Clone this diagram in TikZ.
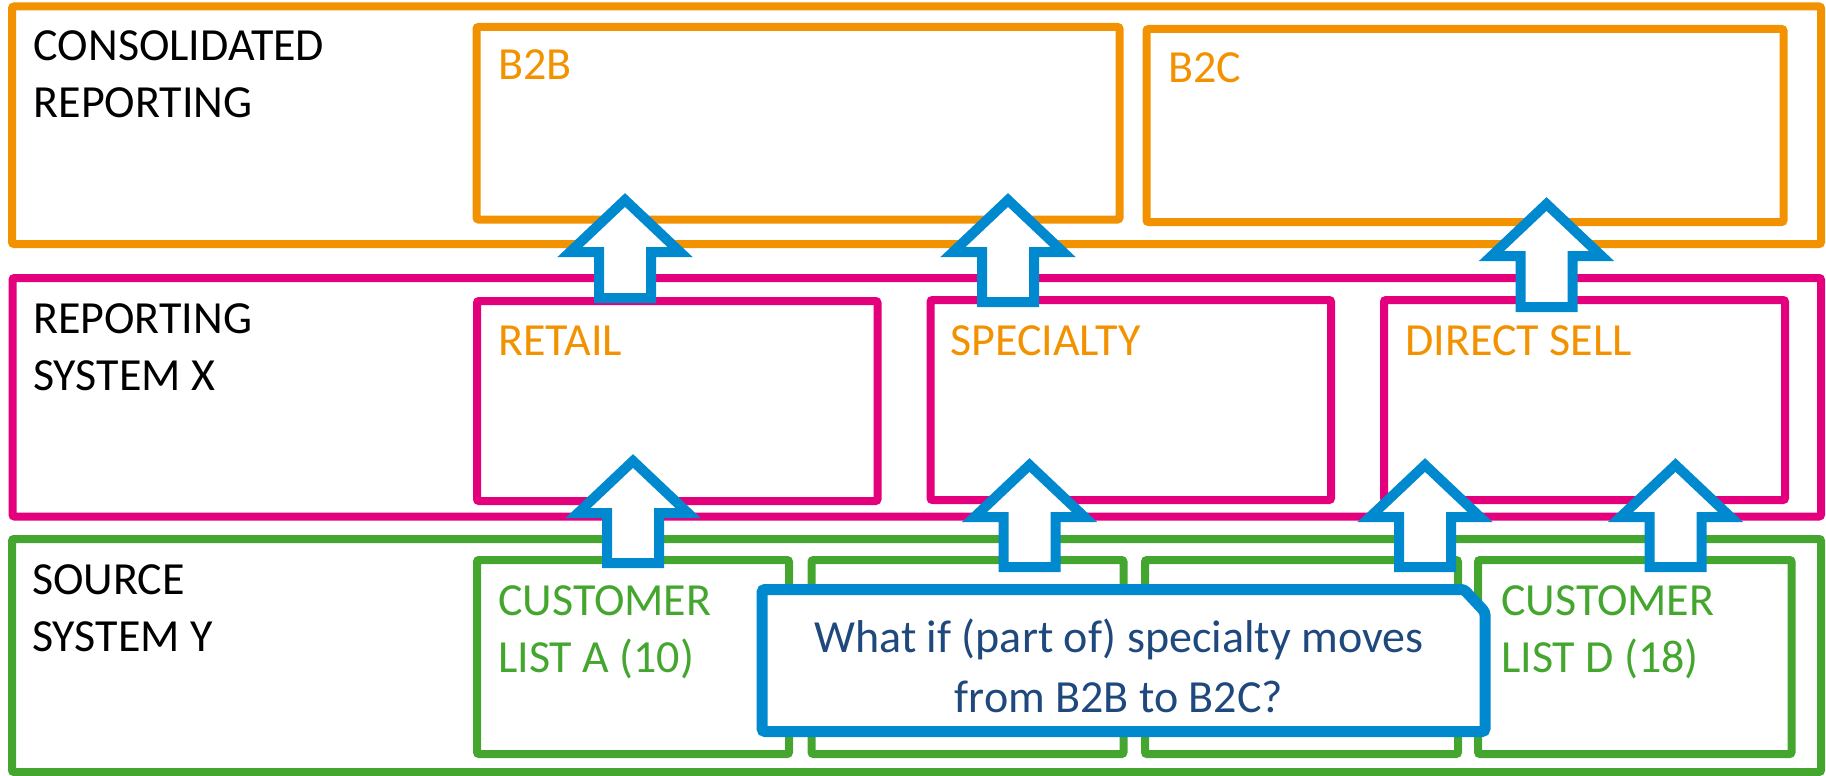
\documentclass[tikz,border=0pt]{standalone}
\usepackage{fontspec}
\setmainfont{Carlito}
\definecolor{layerorange}{RGB}{243,146,0}
\definecolor{layerpink}{RGB}{228,0,124}
\definecolor{layergreen}{RGB}{68,166,47}
\definecolor{arrowblue}{RGB}{0,137,207}
\definecolor{noteblue}{RGB}{31,73,125}
\tikzset{
  layer/.style={draw, line width=8pt, rounded corners=2pt},
  panel/.style={draw, line width=8pt, rounded corners=2pt},
  lbl/.style={anchor=base west, inner sep=0pt, font=\fontsize{46}{57}\selectfont},
  blockarrow/.style={draw=arrowblue, fill=white, line width=10pt, line join=miter},
  callout/.style={draw=arrowblue, fill=white, line width=11pt, rounded corners=3pt},
}
% upward block arrow: centre x, tip y, base y
\newcommand\upblock[3]{%
  \draw[blockarrow] (#1,#2) -- ({#1+55},{#2+52}) -- ({#1+26},{#2+52}) -- ({#1+26},#3)
    -- ({#1-26},#3) -- ({#1-26},{#2+52}) -- ({#1-55},{#2+52}) -- cycle;}
\begin{document}
\begin{tikzpicture}[x=1pt, y=-1pt]
\useasboundingbox (0,0) rectangle (1826,776);

% three layers
\draw[layer, layerorange] (12,6.5) rectangle (1821,244);
\draw[layer, layerpink] (12.5,278) rectangle (1821,516.5);
\draw[layer, layergreen] (12,539) rectangle (1821,772);

% consolidated reporting
\draw[panel, layerorange] (476.5,27) rectangle (1119.5,219.5);
\draw[panel, layerorange] (1146.5,29) rectangle (1783.5,222);

% reporting system
\draw[panel, layerpink] (477,301) rectangle (877.5,501);
\draw[panel, layerpink] (930.5,300) rectangle (1331,500);
\draw[panel, layerpink] (1384,300) rectangle (1785,500);

% source system
\draw[panel, layergreen] (477,560) rectangle (789,754);
\draw[panel, layergreen] (811.5,560) rectangle (1123.5,754);
\draw[panel, layergreen] (1145,560) rectangle (1458,754);
\draw[panel, layergreen] (1478,560) rectangle (1791.5,754);

% flows between the layers
\upblock{625}{200}{298}
\upblock{1008}{200}{302}
\upblock{1546.5}{204}{307}
\upblock{633}{461}{563}
\upblock{1029.5}{465}{567}
\upblock{1425}{465}{567}
\upblock{1675.5}{465}{567}

% question callout
\draw[callout] (762,589.5) -- (1464,589.5) -- (1485,612) -- (1485,731.5) -- (762,731.5) -- cycle;
\node[anchor=base, inner sep=0pt, font=\fontsize{46}{60}\selectfont, text=noteblue] (question) at (1119,652)
  {\begin{tabular}[t]{@{}c@{}}What if (part of) specialty moves\\from B2B to B2C?\end{tabular}};

% layer titles
\node[lbl] (cons) at (33.5,61) {\begin{tabular}[t]{@{}l@{}}CONSOLIDATED\\REPORTING\end{tabular}};
\node[lbl] (repx) at (33,333) {\begin{tabular}[t]{@{}l@{}}REPORTING\\SYSTEM X\end{tabular}};
\node[lbl] (srcy) at (32,594) {\begin{tabular}[t]{@{}l@{}}SOURCE\\SYSTEM Y\end{tabular}};

% panel titles
\node[lbl, text=layerorange] (b2b) at (498,80) {B2B};
\node[lbl, text=layerorange] (b2c) at (1168,82) {B2C};
\node[lbl, text=layerorange] (retail) at (498,355) {RETAIL};
\node[lbl, text=layerorange] (specialty) at (950,355) {SPECIALTY};
\node[lbl, text=layerorange] (direct) at (1405,355) {DIRECT SELL};
\node[lbl, text=layergreen] (lista) at (498,615) {\begin{tabular}[t]{@{}l@{}}CUSTOMER\\LIST A (10)\end{tabular}};
\node[lbl, text=layergreen] (listd) at (1501,615) {\begin{tabular}[t]{@{}l@{}}CUSTOMER\\LIST D (18)\end{tabular}};
\end{tikzpicture}
\end{document}
